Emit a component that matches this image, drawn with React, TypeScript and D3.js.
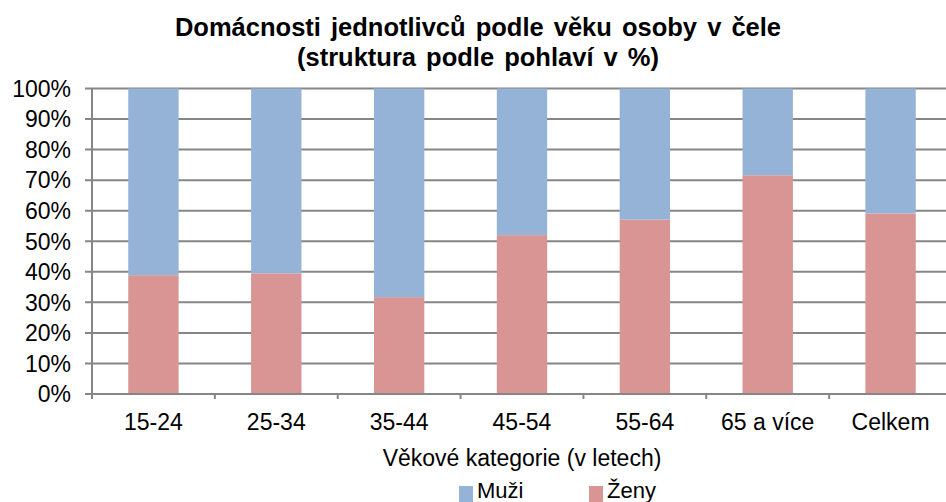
import React, { useEffect, useRef } from "react";
import * as d3 from "d3";

const categories = ["15-24", "25-34", "35-44", "45-54", "55-64", "65 a více", "Celkem"];
const zeny = [38.9, 39.5, 31.7, 52.0, 57.1, 71.6, 59.1];
const muzi = zeny.map((v) => 100 - v);
const yTicks = [0, 10, 20, 30, 40, 50, 60, 70, 80, 90, 100];
const seriesNames = ["Muži", "Ženy"];
const seriesColors = ["#95B3D7", "#D99594"];

const App: React.FC = () => {
  const svgRef = useRef<SVGSVGElement | null>(null);

  useEffect(() => {
    if (!svgRef.current) return;
    const svg = d3.select(svgRef.current);
    svg.selectAll("*").remove();

    const width = 946;
    const height = 502;
    const margin = { top: 88.5, right: -6, bottom: 108, left: 92 };
    const innerW = width - margin.left - margin.right;
    const innerH = height - margin.top - margin.bottom;
    const font = "'Liberation Sans', Arial, sans-serif";

    const x = d3.scaleBand().domain(categories).range([0, innerW]).paddingInner(0.59).paddingOuter(0.295);
    const xb = d3.scaleBand().domain(categories).range([0, innerW]);
    const y = d3.scaleLinear().domain([0, 100]).range([innerH, 0]);

    // title
    const title = svg.append("text")
      .attr("text-anchor", "middle")
      .style("font-family", font)
      .style("font-size", "25.5px")
      .style("font-weight", "bold")
      .style("word-spacing", "3px")
      .attr("fill", "#000");
    title.append("tspan").attr("x", 478).attr("y", 36).text("Domácnosti jednotlivců podle věku osoby v čele");
    title.append("tspan").attr("x", 478).attr("y", 66).text("(struktura  podle pohlaví v %)");

    const g = svg.append("g").attr("transform", `translate(${margin.left},${margin.top})`);

    // gridlines
    g.selectAll(".grid")
      .data(yTicks)
      .enter()
      .append("line")
      .attr("x1", -7)
      .attr("x2", innerW)
      .attr("y1", (d) => y(d))
      .attr("y2", (d) => y(d))
      .attr("stroke", "#868686")
      .attr("stroke-width", 2);

    // y labels
    g.selectAll(".ylab")
      .data(yTicks)
      .enter()
      .append("text")
      .attr("x", -21)
      .attr("y", (d) => y(d))
      .attr("dy", "0.36em")
      .attr("text-anchor", "end")
      .style("font-family", font)
      .style("font-size", "23px")
      .attr("fill", "#000")
      .text((d) => `${d}%`);

    // bars
    const stacked = categories.map((c, i) => ({ c, z: zeny[i], m: muzi[i] }));
    g.selectAll(".barz")
      .data(stacked)
      .enter()
      .append("rect")
      .attr("x", (d) => x(d.c) ?? 0)
      .attr("width", x.bandwidth())
      .attr("y", (d) => y(d.z))
      .attr("height", (d) => innerH - y(d.z))
      .attr("fill", seriesColors[1]);
    g.selectAll(".barm")
      .data(stacked)
      .enter()
      .append("rect")
      .attr("x", (d) => x(d.c) ?? 0)
      .attr("width", x.bandwidth())
      .attr("y", (d) => y(d.z + d.m))
      .attr("height", (d) => y(d.z) - y(d.z + d.m))
      .attr("fill", seriesColors[0]);

    // axes lines
    g.append("line")
      .attr("x1", 0).attr("x2", 0)
      .attr("y1", 0).attr("y2", innerH + 5)
      .attr("stroke", "#868686").attr("stroke-width", 2);
    g.append("line")
      .attr("x1", -7).attr("x2", innerW)
      .attr("y1", innerH).attr("y2", innerH)
      .attr("stroke", "#868686").attr("stroke-width", 2);
    g.selectAll(".xtick")
      .data(categories)
      .enter()
      .append("line")
      .attr("x1", (d) => (xb(d) ?? 0) + xb.bandwidth())
      .attr("x2", (d) => (xb(d) ?? 0) + xb.bandwidth())
      .attr("y1", innerH)
      .attr("y2", innerH + 5)
      .attr("stroke", "#868686").attr("stroke-width", 2);

    // x labels
    g.selectAll(".xlab")
      .data(categories)
      .enter()
      .append("text")
      .attr("x", (d) => (x(d) ?? 0) + x.bandwidth() / 2)
      .attr("y", 430 - margin.top)
      .attr("text-anchor", "middle")
      .style("font-family", font)
      .style("font-size", "23px")
      .attr("fill", "#000")
      .text((d) => d);

    // axis title
    g.append("text")
      .attr("x", (x("45-54") ?? 0) + x.bandwidth() / 2)
      .attr("y", 466 - margin.top)
      .attr("text-anchor", "middle")
      .style("font-family", font)
      .style("font-size", "23px")
      .attr("fill", "#000")
      .text("Věkové kategorie (v letech)");

    // legend
    const legendX = [459, 589];
    seriesNames.forEach((name, i) => {
      svg.append("rect")
        .attr("x", legendX[i])
        .attr("y", 486)
        .attr("width", 14)
        .attr("height", 16)
        .attr("fill", seriesColors[i]);
      svg.append("text")
        .attr("x", legendX[i] + 18)
        .attr("y", 498)
        .style("font-family", font)
        .style("font-size", "22px")
        .attr("fill", "#000")
        .text(name);
    });
  }, []);

  return (
    <svg
      ref={svgRef}
      width={946}
      height={502}
      style={{ position: "absolute", left: 0, top: 0, background: "#fff" }}
    />
  );
};

export default App;
